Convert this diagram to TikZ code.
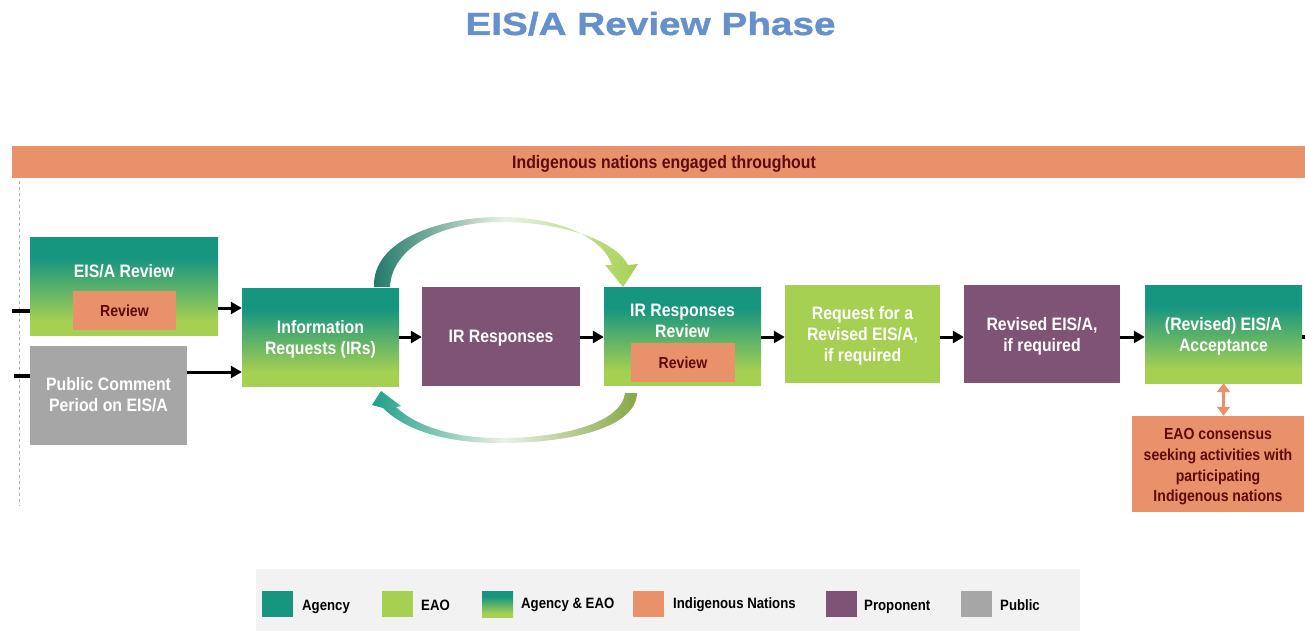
\documentclass[tikz,border=0pt]{standalone}
\usepackage{fontspec}
\setmainfont{Liberation Sans}
\newfontfamily\condfont[FakeStretch=0.88]{Liberation Sans}
\newfontfamily\titlefont[FakeStretch=1.21,FakeBold=1.2]{Liberation Sans}
\usetikzlibrary{arrows.meta,calc}

\definecolor{agency}{HTML}{17967F}
\definecolor{eao}{HTML}{A6D052}
\definecolor{nations}{HTML}{E9916A}
\definecolor{proponent}{HTML}{7E5375}
\definecolor{public}{HTML}{A6A6A6}
\definecolor{darkred}{HTML}{5E0B0B}
\definecolor{titleblue}{HTML}{6690CC}
\definecolor{legendbg}{HTML}{F2F2F2}
\definecolor{loopdark}{HTML}{1F7866}
\definecolor{loopteal}{HTML}{1E9E86}
\definecolor{loopolive}{HTML}{86A843}
\definecolor{loopmid}{HTML}{EAF1E6}

% joint Agency & EAO fill: teal on top fading to green at the bottom
\pgfdeclareverticalshading{agencyeao}{100bp}{color(0bp)=(eao); color(32bp)=(eao); color(64bp)=(agency); color(100bp)=(agency)}

\tikzset{
  box/.style={rectangle, inner sep=0pt, align=center, text=white, text depth=0pt,
    font=\condfont\bfseries\fontsize{18}{21}\selectfont},
  gbox/.style={box, shade, shading=agencyeao},
  boxtext/.style={inner sep=0pt, align=center, text=white,
    font=\condfont\bfseries\fontsize{18}{21}\selectfont},
  task/.style={rectangle, inner sep=0pt, fill=nations, text=darkred, align=center,
    font=\condfont\bfseries\fontsize{16}{20.7}\selectfont},
  arr/.style={-{Triangle[length=11pt,width=12pt]}, line width=3pt, black},
  feed/.style={line width=3.4pt, black},
  dbl/.style={{Triangle[length=9pt,width=13pt]}-{Triangle[length=9pt,width=13pt]}, line width=3.6pt, nations},
  swatch/.style={rectangle, inner sep=0pt, minimum width=31pt, minimum height=26pt},
  legtext/.style={inner sep=0pt, anchor=base west, text=black,
    font=\condfont\bfseries\fontsize{15}{18}\selectfont},
}

\begin{document}
\begin{tikzpicture}[x=1pt,y=-1pt]
\useasboundingbox (0,0) rectangle (1305,631);

% heading
\node[anchor=base, inner sep=0pt, text=titleblue,
  font=\titlefont\bfseries\fontsize{32}{38}\selectfont] (title) at (650.5,35) {EIS/A Review Phase};

% engagement band across the phase
\node[rectangle, fill=nations, inner sep=0pt, minimum width=1293pt, minimum height=32pt] (band) at (658.5,162) {};
\node[anchor=base, inner sep=0pt, text=darkred,
  font=\condfont\bfseries\fontsize{18}{21}\selectfont] (bandlbl) at (664,168.5) {Indigenous nations engaged throughout};

% phase boundary
\coordinate (dtop) at (19,181);
\coordinate (dbot) at (19,506);
\draw[dashed, gray!60, line width=0.8pt] (dtop) -- (dbot);

% process steps
\node[gbox, minimum width=188pt, minimum height=98pt] (review) at (124,286) {};
\node[boxtext] (reviewlbl) at (124,271) {EIS/A Review};
\node[task, minimum width=103pt, minimum height=39pt] (reviewtask) at (124.5,310.5) {Review};

\node[box, fill=public, text depth=3pt, minimum width=157pt, minimum height=99pt] (pub) at (108.5,395.5) {Public Comment\\Period on EIS/A};

\node[gbox, minimum width=157pt, minimum height=98pt] (ir) at (320.5,337) {Information\\Requests (IRs)};

\node[box, fill=proponent, minimum width=158pt, minimum height=99pt] (irresp) at (501,336.5) {IR Responses};

\node[gbox, minimum width=157pt, minimum height=98pt] (irrev) at (682.5,336) {};
\node[boxtext] (irrevlbl) at (682.5,321) {IR Responses\\Review};
\node[task, minimum width=104pt, minimum height=39pt] (irrevtask) at (683,362.5) {Review};

\node[box, fill=eao, minimum width=155pt, minimum height=98pt] (req) at (862.5,334) {Request for a\\Revised EIS/A,\\if required};

\node[box, fill=proponent, minimum width=156pt, minimum height=98pt] (revised) at (1042,334) {Revised EIS/A,\\if required};

\node[gbox, minimum width=157pt, minimum height=98pt] (accept) at (1223.5,334) {(Revised) EIS/A\\Acceptance};

\node[task, minimum width=172pt, minimum height=96pt] (consensus) at (1218,464) {};
\node[task, fill=none] (consensuslbl) at (1218,467) {EAO consensus\\seeking activities with\\participating\\Indigenous nations};

% incoming and outgoing flow
\coordinate (inA) at (12,311);
\coordinate (inB) at (14,376);
\coordinate (outR) at (1305,337);
\draw[feed] (inA) -- (review.west |- inA);
\draw[feed] (inB) -- (pub.west |- inB);
\draw[feed] (accept.east |- outR) -- (outR);

% flow arrows between steps
\coordinate (revout) at ($(review.east)+(0,22)$);
\coordinate (pubout) at ($(pub.east)+(0,-23.5)$);
\draw[arr] (revout) -- (ir.west |- revout);
\draw[arr] (pubout) -- (ir.west |- pubout);
\draw[arr] (ir.east) -- (irresp.west |- ir.east);
\draw[arr] (irresp.east |- ir.east) -- (irrev.west |- ir.east);
\draw[arr] (irrev.east |- ir.east) -- (req.west |- ir.east);
\draw[arr] (req.east |- ir.east) -- (revised.west |- ir.east);
\draw[arr] (revised.east |- ir.east) -- (accept.west |- ir.east);
\draw[dbl] (accept.south) -- (accept.south |- consensus.north);

% iteration loop: requests to responses review
\path[shade, left color=loopdark, right color=eao, middle color=loopmid]
  (374,287) .. controls (372,240) and (440,217) .. (500,217)
  .. controls (560,217) and (603,238) .. (612,265)
  -- (605,265) -- (623,287) -- (638,264) -- (628,265)
  .. controls (615,240) and (562,222) .. (500,222)
  .. controls (445,222) and (392,245) .. (390,287) -- cycle;

% iteration loop: responses review back to requests
\path[shade, left color=loopteal, right color=loopolive, middle color=loopmid]
  (637,393) .. controls (636,428) and (570,443) .. (500,443)
  .. controls (445,443) and (405,430) .. (383,408)
  -- (372,405) -- (381,391) -- (401,406) -- (396,407)
  .. controls (415,425) and (450,438) .. (500,438)
  .. controls (565,438) and (622,422) .. (625,393) -- cycle;

% legend
\node[rectangle, fill=legendbg, inner sep=0pt, minimum width=824pt, minimum height=62pt] (legend) at (668,600) {};
\node[swatch, fill=agency] (swagency) at (277.5,604) {};
\node[legtext] (lbagency) at (302,610.5) {Agency};
\node[swatch, fill=eao] (sweao) at (397,604) {};
\node[legtext] (lbeao) at (421,610.5) {EAO};
\node[swatch, shade, shading=agencyeao] (swboth) at (497.5,604) {};
\node[legtext] (lbboth) at (521,608.5) {Agency \& EAO};
\node[swatch, fill=nations] (swnations) at (648,604) {};
\node[legtext] (lbnations) at (673,608.5) {Indigenous Nations};
\node[swatch, fill=proponent] (swproponent) at (841.5,604) {};
\node[legtext] (lbproponent) at (864,610.5) {Proponent};
\node[swatch, fill=public] (swpublic) at (976.5,604) {};
\node[legtext] (lbpublic) at (1000,610.5) {Public};
\end{tikzpicture}
\end{document}
